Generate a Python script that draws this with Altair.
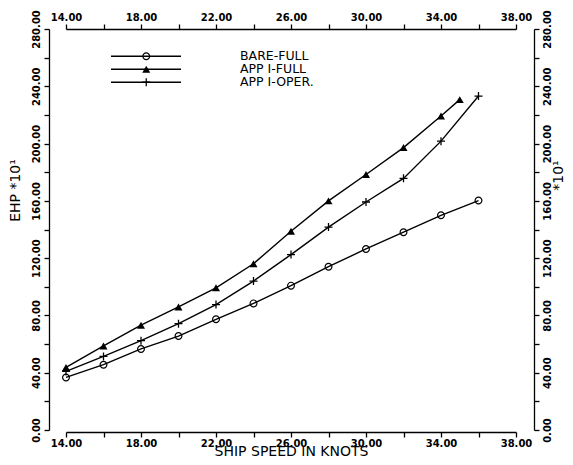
import altair as alt
import pandas as pd

series_names = ["BARE-FULL", "APP I-FULL", "APP I-OPER."]

speed_bare = [14, 16, 18, 20, 22, 24, 26, 28, 30, 32, 34, 36]
ehp_bare = [36.7, 45.6, 56.6, 65.6, 77.3, 88.4, 100.8, 114.0, 126.4, 138.1, 149.9, 160.2]

speed_full = [14, 16, 18, 20, 22, 24, 26, 28, 30, 32, 34, 35]
ehp_full = [43.7, 58.7, 73.2, 85.9, 99.3, 116.1, 138.8, 160.0, 178.4, 197.2, 219.2, 230.7]

speed_oper = [14, 16, 18, 20, 22, 24, 26, 28, 30, 32, 34, 36]
ehp_oper = [40.9, 51.4, 62.4, 74.2, 87.6, 104.0, 122.5, 141.7, 159.2, 175.7, 201.7, 233.2]

x_ticks = [14, 16, 18, 20, 22, 24, 26, 28, 30, 32, 34, 36, 38]
y_ticks = [0, 20, 40, 60, 80, 100, 120, 140, 160, 180, 200, 220, 240, 260, 280]

rows = []
for name, xs, ys in zip(series_names, [speed_bare, speed_full, speed_oper],
                        [ehp_bare, ehp_full, ehp_oper]):
    for xv, yv in zip(xs, ys):
        rows.append({"series": name, "mk": name, "speed": xv, "ehp": yv})
df = pd.DataFrame(rows)

FONT = "DejaVu Sans"
xscale = alt.Scale(domain=[14, 38], nice=False, zero=False)
yscale = alt.Scale(domain=[0, 280], nice=False)

common = dict(domainColor="black", domainWidth=1.3, tickColor="black", tickWidth=1.3,
              tickSize=5, grid=False, labelFont=FONT, labelFontSize=10,
              labelFontWeight="bold", labelColor="black", titleFont=FONT,
              titleFontWeight="normal", titleColor="black", labelFlush=False,
              labelOverlap=False, labelBound=False)

x_expr = "(datum.value - 14) % 4 == 0 ? format(datum.value, '.2f') : ''"
y_expr = "datum.value % 40 == 0 ? format(datum.value, '.2f') : ''"

# filled outline shapes: ring (open circle), solid triangle, thin plus
ring = ("M1,0A1,1 0 1,1 -1,0A1,1 0 1,1 1,0Z"
        "M0.7,0A0.7,0.7 0 1,0 -0.7,0A0.7,0.7 0 1,0 0.7,0Z")
plus_sign = "M-1,-0.16H1V0.16H-1ZM-0.16,-1H0.16V1H-0.16Z"
marker_shapes = [ring, "triangle-up", plus_sign]

base = alt.Chart(df)

lines = base.mark_line(strokeWidth=1.4).encode(
    x=alt.X("speed:Q", scale=xscale,
            axis=alt.Axis(orient="bottom", values=x_ticks, labelExpr=x_expr,
                          title="SHIP SPEED IN KNOTS", titleFontSize=14,
                          titleBaseline="alphabetic", titleY=23,
                          offset=2, labelPadding=1, **common)),
    y=alt.Y("ehp:Q", scale=yscale,
            axis=alt.Axis(orient="left", values=y_ticks, labelExpr=y_expr,
                          labelAngle=270, labelAlign="center", labelBaseline="bottom",
                          labelPadding=3, title="EHP  *10\u00b9", titleFontSize=14,
                          titleAngle=270, titleBaseline="middle",
                          titleX=-34, titleY=161, offset=17, **common)),
    color=alt.Color("series:N",
                    scale=alt.Scale(domain=series_names, range=["black", "black", "black"]),
                    legend=alt.Legend(title=None, orient="none", legendX=44, legendY=21,
                                      symbolType="stroke", symbolSize=4900,
                                      symbolStrokeWidth=1.4, labelOffset=58,
                                      labelFont=FONT, labelFontSize=12.5,
                                      labelColor="black", rowPadding=0, padding=0,
                                      clipHeight=12.5, labelLimit=0)),
)

points = base.mark_point(filled=True, fill="black", strokeWidth=0,
                         size=64, opacity=1).encode(
    x=alt.X("speed:Q", scale=xscale,
            axis=alt.Axis(orient="top", values=x_ticks, labelExpr=x_expr, title=None,
                          offset=0, labelPadding=2, **common)),
    y=alt.Y("ehp:Q", scale=yscale,
            axis=alt.Axis(orient="right", values=y_ticks, labelExpr=y_expr,
                          labelAngle=270, labelAlign="center", labelBaseline="top",
                          labelPadding=3, title="*10\u00b9", titleFontSize=14,
                          titleAngle=270, titleBaseline="middle",
                          titleX=24, titleY=146, offset=18, **common)),
    shape=alt.Shape("mk:N", sort=series_names,
                    scale=alt.Scale(range=marker_shapes),
                    legend=alt.Legend(title=None, orient="none", legendX=44, legendY=21,
                                      symbolOffset=30, labelExpr="''", labelFont=FONT,
                                      labelFontSize=12.5, labelOffset=58,
                                      symbolFillColor="black", symbolStrokeWidth=0,
                                      symbolSize=64, rowPadding=0, padding=0,
                                      clipHeight=12.5, labelLimit=0)),
)

chart = alt.layer(lines, points).resolve_axis(
    x="independent", y="independent"
).properties(
    width=450, height=401,
    autosize=alt.AutoSizeParams(type="none"),
    padding={"left": 58, "top": 21, "right": 49, "bottom": 27},
    background="white",
).configure_view(stroke=None)

chart.save("out.html", embed_options={"renderer": "svg", "actions": False})
